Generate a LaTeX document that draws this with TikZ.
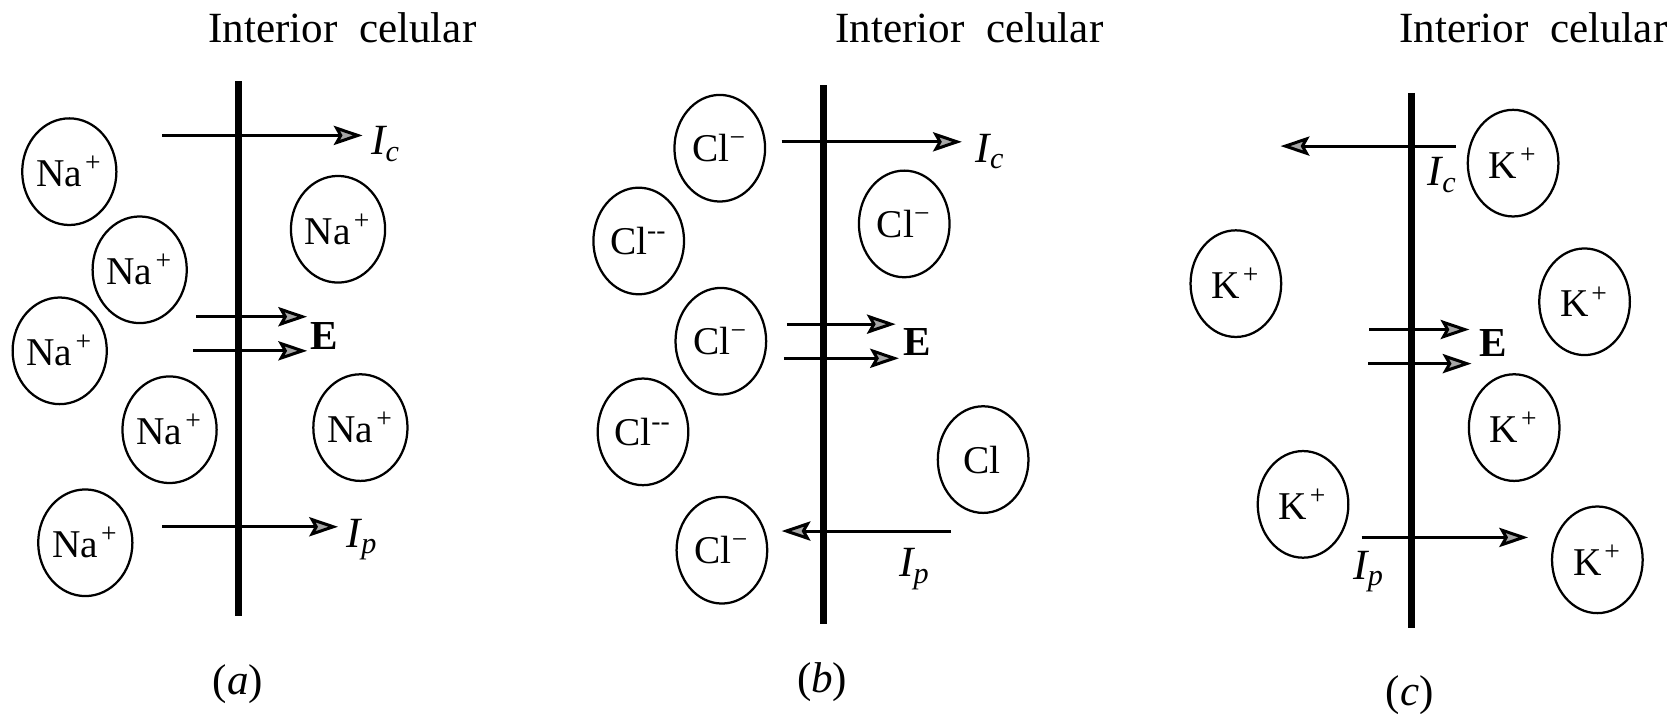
\documentclass[tikz,border=0pt]{standalone}
\usepackage{fontspec}
\setmainfont{Liberation Serif}
\usetikzlibrary{arrows.meta, shapes.geometric}

\begin{document}
\begin{tikzpicture}[x=0.1mm, y=-0.1mm,
    ion/.style={draw, ellipse, line width=0.6pt, minimum width=8.5mm, minimum height=10mm,
                inner sep=0pt, font=\fontsize{10.5}{12}\selectfont},
    wall/.style={line width=1.9pt},
    flux/.style={line width=0.8pt, -{Stealth[length=2.7mm, width=1.8mm, inset=0.5mm, fill=gray!70]}},
    ttl/.style={font=\fontsize{11.5}{14}\selectfont},
    cur/.style={font=\fontsize{11.5}{13}\selectfont\itshape},
    fld/.style={font=\fontsize{11}{13}\selectfont\bfseries},
    tag/.style={font=\fontsize{11.5}{13}\selectfont}
  ]
  \useasboundingbox (0,0) rectangle (1568,669);

  \foreach \p/\x/\y in {a/321/26, b/909/26, c/1438/26} {
     \node[ttl] (t\p) at (\x,\y) {Interior\ \ celular}; }
  \foreach \p/\x/\t/\b in {a/224/76/578, b/772/80/585, c/1324/87/589} {
     \coordinate (m\p1) at (\x,\t); \coordinate (m\p2) at (\x,\b);
     \draw[wall] (m\p1) -- (m\p2); }

  \foreach \x/\y [count=\i] in {65/161, 317/215, 131/253, 56/329, 159/403, 338/401, 80/509} {
     \node[ion] (na\i) at (\x,\y) {Na\textsuperscript{\kern0.12em+}}; }
  \foreach \x/\y/\s [count=\i] in {675/139/−, 599/226/-{}-, 848/210/−, 676/320/−,
                                   603/405/-{}-, 922/431/{}, 677/516/−} {
     \node[ion] (cl\i) at (\x,\y) {Cl\textsuperscript{\s}}; }
  \foreach \x/\y [count=\i] in {1419/153, 1159/266, 1486/283, 1420/401, 1222/473, 1498/525} {
     \node[ion] (k\i) at (\x,\y) {K\textsuperscript{\kern0.1em+}}; }

  \foreach \n/\xs/\xt/\y/\lx/\ly/\s in {ica/152/340/127/362/135/c, ipa/152/317/494/340/506/p,
                                        icb/733/902/133/929/142/c, ipb/892/733/498/858/534/p,
                                        icc/1365/1201/137/1353/164/c, ipc/1277/1433/504/1284/536/p} {
     \coordinate (\n0) at (\xs,\y); \coordinate (\n1) at (\xt,\y);
     \draw[flux] (\n0) -- (\n1);
     \node[cur] (l\n) at (\lx,\ly) {I\textsubscript{\s}}; }

  \foreach \p/\xa/\xb/\xc/\xd/\ya/\yb/\ex/\ey in {a/184/288/181/288/297/329/304/315,
                                                  b/738/840/735/843/304/336/860/321,
                                                  c/1284/1378/1283/1380/309/341/1400/322} {
     \coordinate (e\p1) at (\xa,\ya); \coordinate (e\p2) at (\xb,\ya);
     \coordinate (e\p3) at (\xc,\yb); \coordinate (e\p4) at (\xd,\yb);
     \draw[flux] (e\p1) -- (e\p2);
     \draw[flux] (e\p3) -- (e\p4);
     \node[fld] (E\p) at (\ex,\ey) {E}; }

  \foreach \p/\x/\y in {a/223/642, b/771/640, c/1322/652} {
     \node[tag] (p\p) at (\x,\y) {(\textit{\p})}; }
\end{tikzpicture}
\end{document}
